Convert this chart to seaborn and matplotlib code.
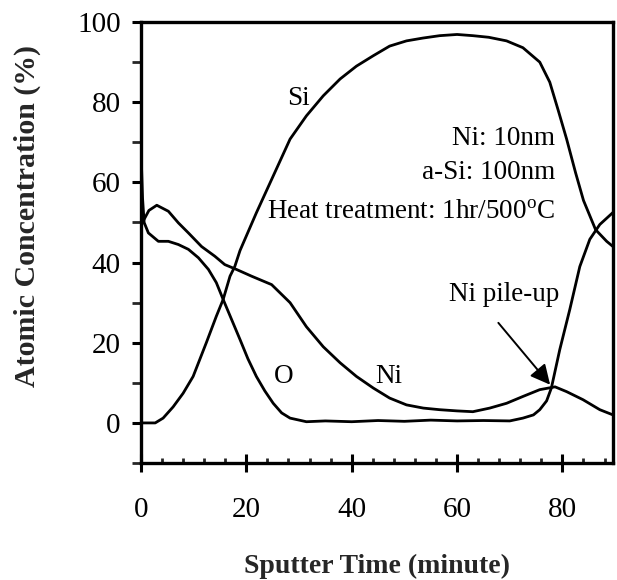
import numpy as np
import pandas as pd
import matplotlib
matplotlib.use('Agg')
import matplotlib.pyplot as plt
import seaborn as sns
from matplotlib.ticker import MultipleLocator, FixedLocator

# ---- data read from the depth profile ----
si_x = [0, 2.7, 4.2, 6.1, 8.0, 9.9, 12.4, 14.3, 15.6, 16.9, 17.8, 18.8, 21.9, 25.1,
        28.3, 31.4, 34.6, 37.8, 40.9, 44.1, 47.2, 50.4, 53.5, 56.7, 60.0, 63.0, 66.0,
        69.4, 72.5, 75.7, 77.6, 79.2, 80.8, 82.5, 84.0, 86.3, 88.4, 89.6]
si_y = [0, 0, 1.2, 4.0, 7.4, 11.6, 20.0, 26.6, 30.8, 36.6, 39.0, 43.0, 52.4, 61.6,
        70.8, 76.6, 81.6, 85.8, 89.0, 91.6, 94.0, 95.3, 96.0, 96.6, 96.9, 96.6, 96.2,
        95.3, 93.6, 90.0, 85.0, 78.0, 70.8, 62.4, 55.5, 48.2, 45.3, 44.0]

o_x = [0, 0.3, 0.6, 1.4, 3.3, 5.2, 7.1, 9.0, 10.9, 12.8, 14.3, 15.6, 17.2, 18.8,
       20.3, 21.9, 23.5, 25.1, 26.7, 28.3, 31.4, 35, 40, 45, 50, 55, 60, 65, 70,
       72.5, 74.5, 75.7, 77.0, 77.9, 79.5, 81.4, 83.3, 85.2, 87.1, 89.6]
o_y = [68, 56, 50, 47.4, 45.3, 45.3, 44.5, 43.3, 41.2, 38.3, 35.0, 30.8, 25.8, 20.8,
       16.0, 11.6, 8.0, 4.9, 2.5, 1.2, 0.3, 0.5, 0.3, 0.6, 0.4, 0.7, 0.5, 0.6, 0.5,
       1.2, 2.0, 3.3, 5.5, 8.7, 18.3, 28.3, 39.0, 45.8, 49.5, 52.5]

ni_x = [0, 0.4, 1.5, 3.0, 5.2, 7.1, 9.0, 11.5, 14.0, 15.9, 18.1, 21.0, 24.8, 28.3,
        31.4, 34.6, 37.8, 40.9, 44.1, 47.2, 50.4, 53.6, 56.7, 60.0, 63.0, 66.2,
        69.4, 72.5, 75.7, 78.6, 80.8, 83.9, 87.1, 89.6]
ni_y = [49, 50.3, 53.0, 54.3, 52.8, 49.9, 47.4, 44.0, 41.6, 39.5, 38.3, 36.6, 34.5,
        30.0, 24.0, 19.0, 15.0, 11.6, 8.7, 6.2, 4.5, 3.7, 3.3, 3.0, 2.8, 3.7, 4.9,
        6.6, 8.3, 9.0, 7.8, 5.8, 3.3, 2.0]

x_major = [0, 20, 40, 60, 80]
y_major = [0, 20, 40, 60, 80, 100]

# ---- style ----
sns.set_theme(style='ticks')
plt.rcParams['font.family'] = ['Liberation Serif', 'DejaVu Serif']
plt.rcParams['mathtext.fontset'] = 'custom'
plt.rcParams['mathtext.rm'] = 'Liberation Serif'

fig = plt.figure(figsize=(6.17, 5.8), dpi=100)
ax = fig.add_axes([0.2285, 0.2017, 0.765, 0.7603])

for xs, ys in [(si_x, si_y), (o_x, o_y), (ni_x, ni_y)]:
    df = pd.DataFrame({'t': xs, 'c': ys})
    sns.lineplot(data=df, x='t', y='c', color='black', linewidth=2.0,
                 estimator=None, sort=False, ax=ax)

ax.set_xlim(0, 89.6)
ax.set_ylim(-10, 100)

ax.xaxis.set_major_locator(FixedLocator(x_major))
ax.xaxis.set_minor_locator(MultipleLocator(4))
ax.yaxis.set_major_locator(FixedLocator(y_major))
ax.yaxis.set_minor_locator(FixedLocator([-10, 10, 30, 50, 70, 90]))

ax.tick_params(axis='x', which='major', direction='inout', length=12.5, width=2.2,
               labelsize=21, pad=18, colors='black')
ax.tick_params(axis='x', which='minor', direction='in', length=3.8, width=2.0)
ax.tick_params(axis='y', which='major', direction='out', length=6.5, width=2.2,
               labelsize=21, pad=8, colors='black')
ax.tick_params(axis='y', which='minor', direction='out', length=6.5, width=2.0)

for s in ax.spines.values():
    s.set_linewidth(2.4)
    s.set_color('black')

ax.set_xlabel('Sputter Time (minute)', fontsize=20, fontweight='bold')
ax.set_ylabel('Atomic Concentration (%)', fontsize=21.5, fontweight='bold')
ax.xaxis.label.set_va('baseline')
ax.xaxis.set_label_coords(0.5, -0.25)
ax.yaxis.set_label_coords(-0.212, 0.56)

txt = dict(fontsize=19.5, color='black')
ax.text(29.8, 81, 'Si', ha='center', va='center', **txt)
ax.text(78.6, 71, 'Ni: 10nm', ha='right', va='center', **txt)
ax.text(78.6, 62.5, 'a-Si: 100nm', ha='right', va='center', **txt)
ax.text(78.6, 52.5, r'Heat treatment: 1hr/500$^\mathrm{o}$C', ha='right', va='center', **txt)
ax.text(27, 11.5, 'O', ha='center', va='center', **txt)
ax.text(47, 11.5, 'Ni', ha='center', va='center', **txt)
ax.text(69, 32, 'Ni pile-up', ha='center', va='center', **txt)
ax.annotate('', xy=(78, 9), xytext=(67.5, 25.5),
            arrowprops=dict(arrowstyle='-|>', color='black', lw=1.4, mutation_scale=30))

fig.savefig('out.png', dpi=100)
